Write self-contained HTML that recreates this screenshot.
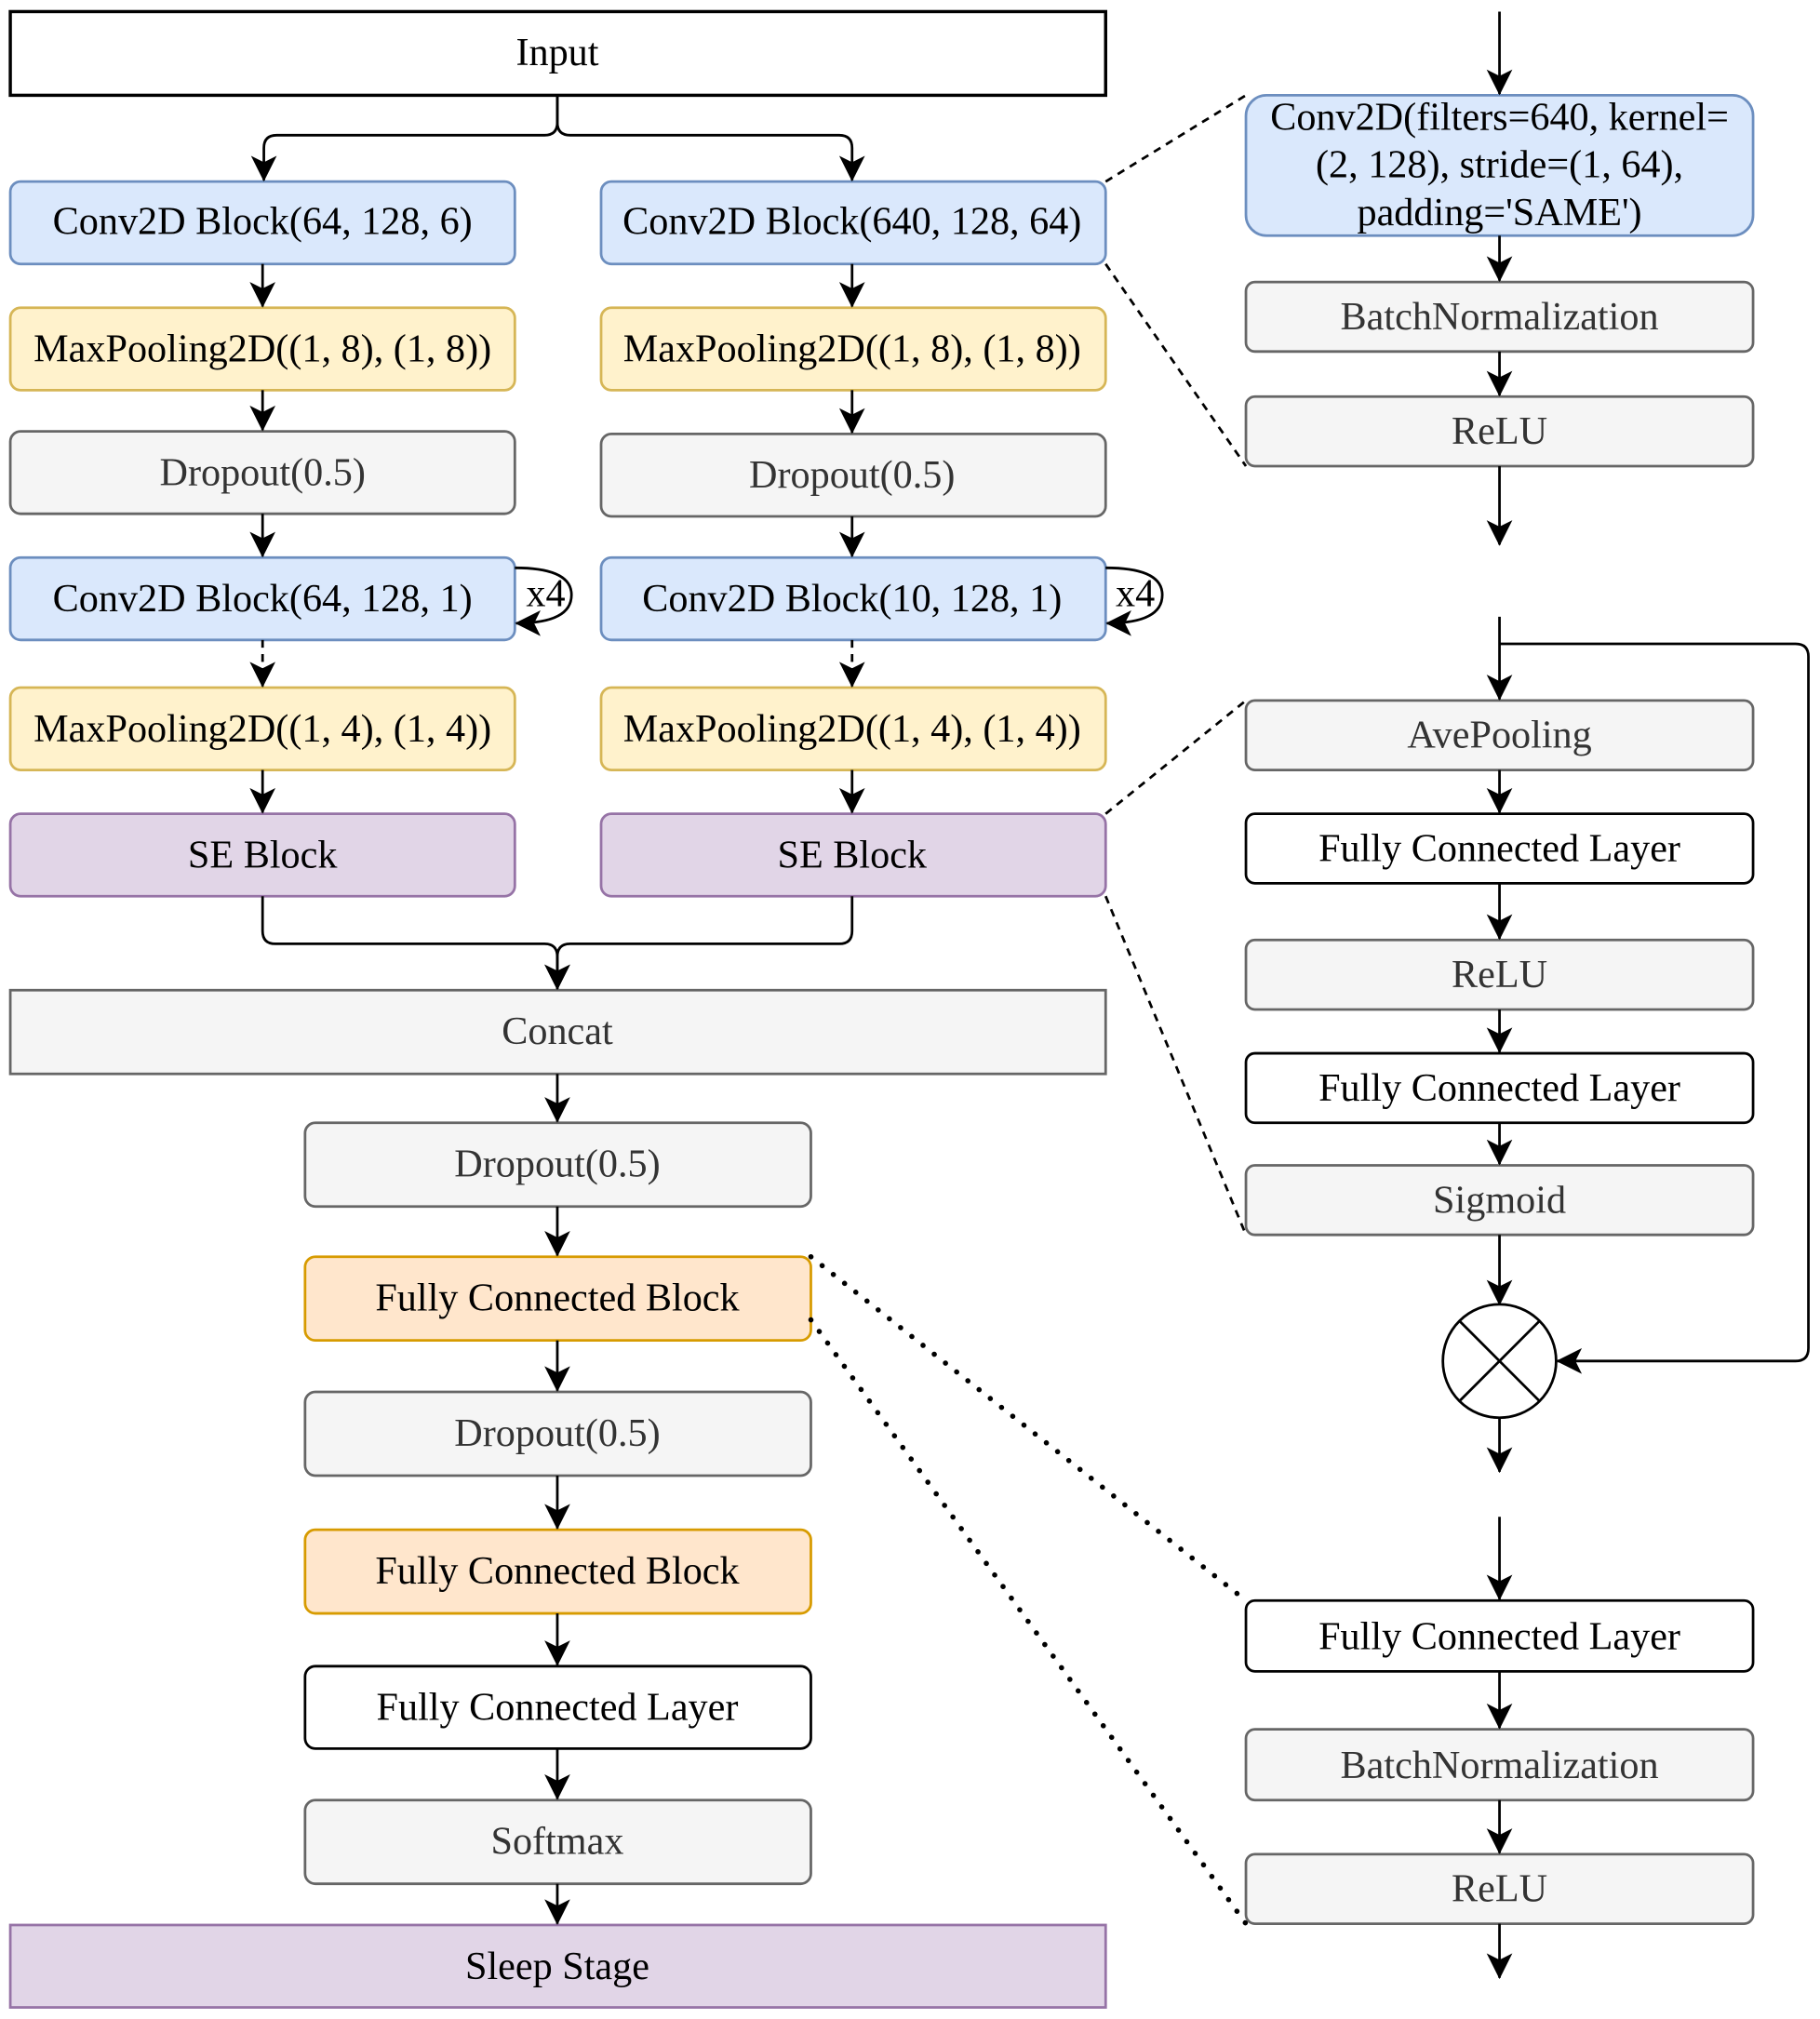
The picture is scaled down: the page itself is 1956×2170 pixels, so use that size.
<!DOCTYPE html>
<html><head><meta charset="utf-8">
<style>
html,body{margin:0;padding:0;background:#fff;}
svg{display:block;}
svg text{font-family:"Liberation Serif","DejaVu Serif",serif;font-size:30.5px;text-anchor:middle;dominant-baseline:central;}
</style></head><body>
<svg width="1956" height="2170" viewBox="0 0 1414 1568" preserveAspectRatio="none" xmlns="http://www.w3.org/2000/svg" font-family="Liberation Serif, DejaVu Serif, serif" font-size="30.5">
<defs>
<marker id="a" markerWidth="20" markerHeight="20" refX="19" refY="10" orient="auto" markerUnits="userSpaceOnUse" viewBox="0 0 20 20">
<path d="M0,0 L20,10 L0,20 L5,10 Z" fill="#000"/>
</marker>
</defs>
<g fill="none" stroke="#000" stroke-width="2">
<rect x="8" y="9" width="851" height="65" stroke-width="2.5"/>
</g>
<text x="433" y="41">Input</text>

<g stroke-width="2">
<g fill="#dae8fc" stroke="#6c8ebf">
<rect x="8" y="141" width="392" height="64" rx="8"/>
<rect x="467" y="141" width="392" height="64" rx="8"/>
<rect x="8" y="433" width="392" height="64" rx="8"/>
<rect x="467" y="433" width="392" height="64" rx="8"/>
<rect x="968" y="74" width="394" height="109" rx="16"/>
</g>
<g fill="#fff2cc" stroke="#d6b656">
<rect x="8" y="239" width="392" height="64" rx="8"/>
<rect x="467" y="239" width="392" height="64" rx="8"/>
<rect x="8" y="534" width="392" height="64" rx="8"/>
<rect x="467" y="534" width="392" height="64" rx="8"/>
</g>
<g fill="#f5f5f5" stroke="#666">
<rect x="8" y="335" width="392" height="64" rx="8"/>
<rect x="467" y="337" width="392" height="64" rx="8"/>
<rect x="8" y="769" width="851" height="65"/>
<rect x="237" y="872" width="393" height="65" rx="8"/>
<rect x="237" y="1081" width="393" height="65" rx="8"/>
<rect x="237" y="1398" width="393" height="65" rx="8"/>
<rect x="968" y="219" width="394" height="54" rx="7"/>
<rect x="968" y="308" width="394" height="54" rx="7"/>
<rect x="968" y="544" width="394" height="54" rx="7"/>
<rect x="968" y="730" width="394" height="54" rx="7"/>
<rect x="968" y="905" width="394" height="54" rx="7"/>
<rect x="968" y="1343" width="394" height="55" rx="7"/>
<rect x="968" y="1440" width="394" height="54" rx="7"/>
</g>
<g fill="#e1d5e7" stroke="#9673a6">
<rect x="8" y="632" width="392" height="64" rx="8"/>
<rect x="467" y="632" width="392" height="64" rx="8"/>
<rect x="8" y="1495" width="851" height="64"/>
</g>
<g fill="#ffe6cc" stroke="#d79b00">
<rect x="237" y="976" width="393" height="65" rx="8"/>
<rect x="237" y="1188" width="393" height="65" rx="8"/>
</g>
<g fill="#fff" stroke="#000">
<rect x="237" y="1294" width="393" height="64" rx="8"/>
<rect x="968" y="632" width="394" height="54" rx="7"/>
<rect x="968" y="818" width="394" height="54" rx="7"/>
<rect x="968" y="1243" width="394" height="55" rx="7"/>
</g>
</g>

<g fill="none" stroke="#000" stroke-width="2">
<path d="M433 74 V95 Q433 105 423 105 H215 Q205 105 205 115 V140" marker-end="url(#a)"/>
<path d="M433 74 V95 Q433 105 443 105 H652 Q662 105 662 115 V140" marker-end="url(#a)"/>
<path d="M204 205 V238" marker-end="url(#a)"/>
<path d="M662 205 V238" marker-end="url(#a)"/>
<path d="M204 303 V334" marker-end="url(#a)"/>
<path d="M662 303 V336" marker-end="url(#a)"/>
<path d="M204 399 V432" marker-end="url(#a)"/>
<path d="M662 401 V432" marker-end="url(#a)"/>
<path d="M204 497 V533" stroke-dasharray="6,5" marker-end="url(#a)"/>
<path d="M662 497 V533" stroke-dasharray="6,5" marker-end="url(#a)"/>
<path d="M204 598 V631" marker-end="url(#a)"/>
<path d="M662 598 V631" marker-end="url(#a)"/>
<path d="M400 441 Q444 441 444 462 Q444 484 401 484" marker-end="url(#a)"/>
<path d="M859 441 Q903 441 903 462 Q903 484 860 484" marker-end="url(#a)"/>
<path d="M204 696 V723 Q204 733 214 733 H423 Q433 733 433 743 V768" marker-end="url(#a)"/>
<path d="M662 696 V723 Q662 733 652 733 H443 Q433 733 433 743 V768" marker-end="url(#a)"/>
<path d="M433 834 V871" marker-end="url(#a)"/>
<path d="M433 937 V975" marker-end="url(#a)"/>
<path d="M433 1041 V1080" marker-end="url(#a)"/>
<path d="M433 1146 V1187" marker-end="url(#a)"/>
<path d="M433 1253 V1293" marker-end="url(#a)"/>
<path d="M433 1358 V1397" marker-end="url(#a)"/>
<path d="M433 1463 V1494" marker-end="url(#a)"/>
<path d="M1165 9 V73" marker-end="url(#a)"/>
<path d="M1165 183 V218" marker-end="url(#a)"/>
<path d="M1165 273 V307" marker-end="url(#a)"/>
<path d="M1165 362 V423" marker-end="url(#a)"/>
<path d="M1165 479 V543" marker-end="url(#a)"/>
<path d="M1165 500 H1395 Q1405 500 1405 510 V1047 Q1405 1057 1395 1057 H1210" marker-end="url(#a)"/>
<path d="M1165 598 V631" marker-end="url(#a)"/>
<path d="M1165 686 V729" marker-end="url(#a)"/>
<path d="M1165 784 V817" marker-end="url(#a)"/>
<path d="M1165 872 V904" marker-end="url(#a)"/>
<path d="M1165 959 V1013" marker-end="url(#a)"/>
<circle cx="1165" cy="1057" r="44"/>
<path d="M1134 1026 L1196 1088 M1196 1026 L1134 1088"/>
<path d="M1165 1101 V1143" marker-end="url(#a)"/>
<path d="M1165 1178 V1242" marker-end="url(#a)"/>
<path d="M1165 1298 V1342" marker-end="url(#a)"/>
<path d="M1165 1398 V1439" marker-end="url(#a)"/>
<path d="M1165 1494 V1536" marker-end="url(#a)"/>
<g stroke-dasharray="6,5">
<path d="M859 141 L968 74"/>
<path d="M859 205 L968 362"/>
<path d="M859 632 L968 544"/>
<path d="M859 696 L968 959"/>
</g>
<g stroke-dasharray="0.1,11" stroke-linecap="round" stroke-width="4">
<path d="M630 976 L968 1243"/>
<path d="M630 1025 L968 1494"/>
</g>
</g>

<g fill="#000">
<text x="204" y="172">Conv2D Block(64, 128, 6)</text>
<text x="662" y="172">Conv2D Block(640, 128, 64)</text>
<text x="204" y="271">MaxPooling2D((1, 8), (1, 8))</text>
<text x="662" y="271">MaxPooling2D((1, 8), (1, 8))</text>
<text x="204" y="465">Conv2D Block(64, 128, 1)</text>
<text x="662" y="465">Conv2D Block(10, 128, 1)</text>
<text x="424" y="461">x4</text>
<text x="882" y="461">x4</text>
<text x="204" y="566">MaxPooling2D((1, 4), (1, 4))</text>
<text x="662" y="566">MaxPooling2D((1, 4), (1, 4))</text>
<text x="204" y="664">SE Block</text>
<text x="662" y="664">SE Block</text>
<text x="433" y="1008">Fully Connected Block</text>
<text x="433" y="1220">Fully Connected Block</text>
<text x="433" y="1326">Fully Connected Layer</text>
<text x="433" y="1527">Sleep Stage</text>
<text x="1165" y="91">Conv2D(filters=640, kernel=</text>
<text x="1165" y="128">(2, 128), stride=(1, 64),</text>
<text x="1165" y="165">padding='SAME')</text>
<text x="1165" y="659">Fully Connected Layer</text>
<text x="1165" y="845">Fully Connected Layer</text>
<text x="1165" y="1271">Fully Connected Layer</text>
</g>
<g fill="#333">
<text x="204" y="367">Dropout(0.5)</text>
<text x="662" y="369">Dropout(0.5)</text>
<text x="433" y="801">Concat</text>
<text x="433" y="904">Dropout(0.5)</text>
<text x="433" y="1113">Dropout(0.5)</text>
<text x="433" y="1430">Softmax</text>
<text x="1165" y="246">BatchNormalization</text>
<text x="1165" y="335">ReLU</text>
<text x="1165" y="571">AvePooling</text>
<text x="1165" y="757">ReLU</text>
<text x="1165" y="932">Sigmoid</text>
<text x="1165" y="1371">BatchNormalization</text>
<text x="1165" y="1467">ReLU</text>
</g>
</svg>
</body></html>
